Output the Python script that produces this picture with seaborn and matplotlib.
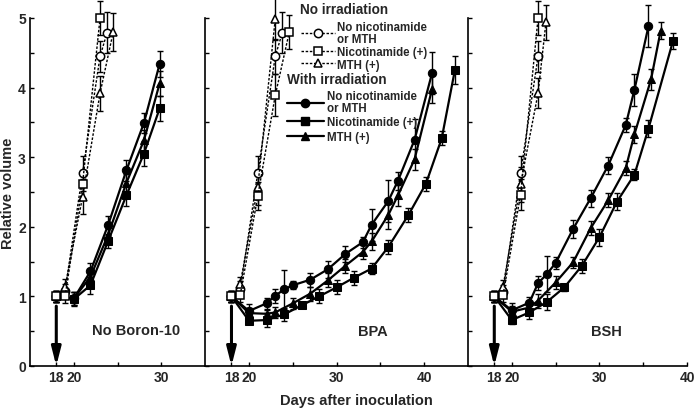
import numpy as np
import pandas as pd
import matplotlib
matplotlib.use("Agg")
import matplotlib.pyplot as plt
from matplotlib.lines import Line2D
from matplotlib.ticker import MultipleLocator, FixedLocator
import seaborn as sns

# ---------------- data ----------------
panel_names = ["No Boron-10", "BPA", "BSH"]
panel_xlims = [(15, 35), (15, 45), (15, 40)]
panel_xticks = [[18, 20, 30], [18, 20, 30, 40], [18, 20, 30, 40]]
panel_xminor = [[25], [25, 35], [25, 35]]
panel_text_pos = [(27.1, 0.52), (34.1, 0.5), (30.85, 0.5)]

# No irradiation (open markers, dotted lines)
L_ni_ctrl_x = [18, 19, 21, 23, 23.8]
L_ni_ctrl_y = [1.0, 1.08, 2.77, 4.45, 4.79]
L_ni_ctrl_e = [0.08, 0.1, 0.25, 0.22, 0.3]
L_ni_nic_x = [18, 19, 21, 23]
L_ni_nic_y = [1.0, 1.0, 2.62, 5.0]
L_ni_nic_e = [0.08, 0.1, 0.2, 0.25]
L_ni_mth_x = [18, 19, 21, 23, 24.5]
L_ni_mth_y = [1.0, 1.13, 2.43, 3.92, 4.80]
L_ni_mth_e = [0.08, 0.12, 0.25, 0.25, 0.27]

M_ni_ctrl_x = [18, 19, 21, 23, 23.8]
M_ni_ctrl_y = [1.0, 1.1, 2.77, 4.45, 4.79]
M_ni_ctrl_e = [0.08, 0.12, 0.25, 0.25, 0.3]
M_ni_nic_x = [18, 19, 21, 23, 24.6]
M_ni_nic_y = [1.0, 1.02, 2.44, 3.89, 4.80]
M_ni_nic_e = [0.08, 0.1, 0.2, 0.3, 0.25]
M_ni_mth_x = [18, 19, 21, 23]
M_ni_mth_y = [1.0, 1.18, 2.57, 4.99]
M_ni_mth_e = [0.08, 0.1, 0.25, 0.3]

R_ni_ctrl_x = [18, 19, 21, 23]
R_ni_ctrl_y = [1.0, 1.07, 2.77, 4.45]
R_ni_ctrl_e = [0.08, 0.1, 0.25, 0.22]
R_ni_nic_x = [18, 19, 21, 23]
R_ni_nic_y = [1.0, 1.02, 2.46, 5.0]
R_ni_nic_e = [0.08, 0.1, 0.22, 0.25]
R_ni_mth_x = [18, 19, 21, 23, 23.9]
R_ni_mth_y = [1.0, 1.14, 2.61, 3.92, 4.94]
R_ni_mth_e = [0.08, 0.1, 0.25, 0.22, 0.25]

# With irradiation (filled markers, solid lines)
L_ir_x = [18, 20, 21.9, 23.9, 26, 28, 29.8]
L_ir_ctrl_y = [1.0, 0.97, 1.36, 2.02, 2.81, 3.49, 4.34]
L_ir_ctrl_e = [0.08, 0.1, 0.12, 0.14, 0.15, 0.14, 0.19]
L_ir_mth_y = [1.0, 0.97, 1.28, 1.88, 2.63, 3.24, 4.06]
L_ir_mth_e = [0.08, 0.1, 0.12, 0.12, 0.13, 0.15, 0.18]
L_ir_nic_y = [1.0, 0.96, 1.16, 1.79, 2.45, 3.05, 3.70]
L_ir_nic_e = [0.08, 0.1, 0.12, 0.1, 0.15, 0.18, 0.18]

M_ir_ctrl_x = [18, 20, 22, 23, 24, 25, 27, 29, 31, 33, 34, 35.9, 37, 38.9, 40.9]
M_ir_ctrl_y = [1.0, 0.79, 0.90, 1.01, 1.10, 1.16, 1.24, 1.39, 1.61, 1.78, 2.03, 2.37, 2.66, 3.25, 4.21]
M_ir_ctrl_e = [0.08, 0.1, 0.08, 0.1, 0.28, 0.06, 0.1, 0.12, 0.12, 0.08, 0.23, 0.3, 0.13, 0.3, 0.3]
M_ir_mth_x = [18, 20, 22, 23, 25, 27, 29, 31, 33, 34, 35.9, 37, 38.9, 40.9]
M_ir_mth_y = [1.0, 0.76, 0.75, 0.77, 0.90, 1.04, 1.23, 1.44, 1.64, 1.79, 2.17, 2.45, 2.97, 3.98]
M_ir_mth_e = [0.08, 0.08, 0.06, 0.08, 0.08, 0.1, 0.1, 0.1, 0.1, 0.12, 0.2, 0.15, 0.15, 0.2]
M_ir_nic_x = [18, 20, 22, 24, 26, 28, 30, 32, 34, 35.9, 38.2, 40.2, 42, 43.5]
M_ir_nic_y = [1.0, 0.65, 0.66, 0.74, 0.87, 1.0, 1.13, 1.27, 1.40, 1.71, 2.17, 2.62, 3.27, 4.25]
M_ir_nic_e = [0.08, 0.05, 0.1, 0.1, 0.04, 0.1, 0.1, 0.1, 0.08, 0.1, 0.1, 0.1, 0.1, 0.2]

R_ir_ctrl_x = [18, 20, 22, 23, 24, 25, 27, 29, 31, 33, 34, 35.6]
R_ir_ctrl_y = [1.0, 0.80, 0.91, 1.19, 1.32, 1.48, 1.97, 2.41, 2.88, 3.46, 3.97, 4.88]
R_ir_ctrl_e = [0.08, 0.1, 0.08, 0.1, 0.26, 0.08, 0.13, 0.12, 0.12, 0.1, 0.23, 0.3]
R_ir_mth_x = [18, 20, 22, 23, 25, 27, 29, 31, 33, 34, 35.9, 37]
R_ir_mth_y = [1.0, 0.78, 0.84, 0.94, 1.20, 1.49, 1.98, 2.38, 2.84, 3.33, 4.12, 4.82]
R_ir_mth_e = [0.08, 0.08, 0.08, 0.1, 0.1, 0.08, 0.1, 0.1, 0.1, 0.12, 0.15, 0.12]
R_ir_nic_x = [18, 20, 22, 24, 26, 28, 30, 32, 34, 35.6, 38.4]
R_ir_nic_y = [1.0, 0.66, 0.77, 0.92, 1.13, 1.44, 1.85, 2.36, 2.75, 3.41, 4.67]
R_ir_nic_e = [0.08, 0.05, 0.1, 0.12, 0.05, 0.1, 0.12, 0.12, 0.08, 0.12, 0.12]

ni_labels = ["No nicotinamide\nor MTH", "Nicotinamide (+)", "MTH (+)"]
ir_labels = ["No nicotinamide\nor MTH", "Nicotinamide (+)", "MTH (+)"]

panels = [
    {"ir": [(L_ir_x, L_ir_ctrl_y, L_ir_ctrl_e, "o"), (L_ir_x, L_ir_mth_y, L_ir_mth_e, "^"),
            (L_ir_x, L_ir_nic_y, L_ir_nic_e, "s")],
     "ni": [(L_ni_ctrl_x, L_ni_ctrl_y, L_ni_ctrl_e, "o"), (L_ni_mth_x, L_ni_mth_y, L_ni_mth_e, "^"),
            (L_ni_nic_x, L_ni_nic_y, L_ni_nic_e, "s")]},
    {"ir": [(M_ir_ctrl_x, M_ir_ctrl_y, M_ir_ctrl_e, "o"), (M_ir_mth_x, M_ir_mth_y, M_ir_mth_e, "^"),
            (M_ir_nic_x, M_ir_nic_y, M_ir_nic_e, "s")],
     "ni": [(M_ni_ctrl_x, M_ni_ctrl_y, M_ni_ctrl_e, "o"), (M_ni_mth_x, M_ni_mth_y, M_ni_mth_e, "^"),
            (M_ni_nic_x, M_ni_nic_y, M_ni_nic_e, "s")]},
    {"ir": [(R_ir_ctrl_x, R_ir_ctrl_y, R_ir_ctrl_e, "o"), (R_ir_mth_x, R_ir_mth_y, R_ir_mth_e, "^"),
            (R_ir_nic_x, R_ir_nic_y, R_ir_nic_e, "s")],
     "ni": [(R_ni_ctrl_x, R_ni_ctrl_y, R_ni_ctrl_e, "o"), (R_ni_mth_x, R_ni_mth_y, R_ni_mth_e, "^"),
            (R_ni_nic_x, R_ni_nic_y, R_ni_nic_e, "s")]},
]

# ---------------- style ----------------
sns.set_style("ticks")
plt.rcParams["font.family"] = ["Liberation Sans", "DejaVu Sans"]
plt.rcParams["font.weight"] = "bold"

W, H = 697, 410
fig = plt.figure(figsize=(W / 100, H / 100), dpi=100)
gs = fig.add_gridspec(1, 3, width_ratios=[20, 30, 25], left=30 / W, right=687 / W,
                      bottom=1 - 367 / H, top=1 - 19 / H, wspace=0)

MS = {"o": 6.0, "s": 5.8, "^": 6.4}
NI_DASH = (0, (1.8, 1.2))

for i, p in enumerate(panels):
    ax = fig.add_subplot(gs[0, i])
    # irradiated: solid lines with filled markers
    for xs, ys, es, mk in p["ir"]:
        df = pd.DataFrame({"day": xs, "vol": ys})
        sns.lineplot(data=df, x="day", y="vol", ax=ax, color="k", marker=mk,
                     markersize=MS[mk], markerfacecolor="k", markeredgecolor="k",
                     linewidth=1.6, errorbar=None, clip_on=False, zorder=3)
        eb = ax.errorbar(xs, ys, yerr=es, fmt="none", ecolor="k", elinewidth=1.0,
                         capsize=2.0, capthick=1.0, zorder=2)
        for ch in eb.get_children():
            ch.set_clip_on(False)
    # not irradiated: dotted lines with open markers
    for xs, ys, es, mk in p["ni"]:
        df = pd.DataFrame({"day": xs, "vol": ys})
        sns.lineplot(data=df, x="day", y="vol", ax=ax, color="k", marker=mk,
                     markersize=MS[mk], markerfacecolor="white", markeredgecolor="k",
                     markeredgewidth=1.1, linewidth=1.0, linestyle=NI_DASH,
                     errorbar=None, clip_on=False, zorder=5)
        eb = ax.errorbar(xs, ys, yerr=es, fmt="none", ecolor="k", elinewidth=1.0,
                         capsize=2.0, capthick=1.0, zorder=4)
        for ch in eb.get_children():
            ch.set_clip_on(False)

    # irradiation arrow
    ax.annotate("", xy=(18, 0.0), xytext=(18, 0.86),
                arrowprops=dict(arrowstyle="-|>,head_length=1.1,head_width=0.28",
                                mutation_scale=10, lw=2.2, color="k",
                                shrinkA=0, shrinkB=0), zorder=1, annotation_clip=False)

    tx, ty = panel_text_pos[i]
    ax.text(tx, ty, panel_names[i], ha="center", va="center", fontsize=10.5,
            fontweight="bold")

    ax.set_xlim(*panel_xlims[i])
    ax.set_ylim(0, 5)
    ax.set_xlabel("")
    ax.set_ylabel("")
    ax.xaxis.set_major_locator(FixedLocator(panel_xticks[i]))
    ax.xaxis.set_minor_locator(FixedLocator(panel_xminor[i]))
    ax.yaxis.set_major_locator(MultipleLocator(1))
    ax.yaxis.set_minor_locator(MultipleLocator(0.5))
    ax.tick_params(which="both", direction="in", length=3, width=1.0, color="k")
    ax.tick_params(axis="x", which="major", labelsize=10, pad=3)
    ax.tick_params(axis="y", which="major", labelsize=10, pad=3)
    if i > 0:
        ax.tick_params(axis="y", labelleft=False)
    for lab in ax.get_xticklabels() + ax.get_yticklabels():
        lab.set_fontweight("bold")
    sns.despine(ax=ax)
    for s in ["left", "bottom"]:
        ax.spines[s].set_linewidth(1.2)
        ax.spines[s].set_color("k")
    ax.set_facecolor("none")
    ax.patch.set_alpha(0)

fig.text(356 / W, 1 - 401 / H, "Days after inoculation", ha="center", va="center",
         fontsize=10.5, fontweight="bold")
fig.text(8 / W, 1 - 193 / H, "Relative volume", ha="center", va="center",
         rotation=90, fontsize=10.5, fontweight="bold")

# legends
def mk_handle(mk, filled):
    if filled:
        return Line2D([], [], color="k", lw=1.6, marker=mk, markersize=MS[mk],
                      markerfacecolor="k", markeredgecolor="k")
    return Line2D([], [], color="k", lw=1.0, linestyle=NI_DASH, marker=mk,
                  markersize=MS[mk], markerfacecolor="white", markeredgecolor="k",
                  markeredgewidth=1.1)

ni_handles = [mk_handle("o", False), mk_handle("s", False), mk_handle("^", False)]
ir_handles = [mk_handle("o", True), mk_handle("s", True), mk_handle("^", True)]

leg_kw = dict(loc="upper left", bbox_transform=fig.transFigure, frameon=False,
              borderpad=0, borderaxespad=0, numpoints=1, alignment="left",
              prop={"weight": "bold", "size": 8.3},
              title_fontproperties={"weight": "bold", "size": 9.8})
leg1 = fig.legend(ni_handles, ni_labels, title="No irradiation",
                  bbox_to_anchor=(300.5 / W, 1 - 3.5 / H), handlelength=3.0,
                  handletextpad=0.15, labelspacing=0.08, **leg_kw)
leg2 = fig.legend(ir_handles, ir_labels, title="With irradiation",
                  bbox_to_anchor=(287 / W, 1 - 73 / H), handlelength=3.2,
                  handletextpad=0.25, labelspacing=0.2, **leg_kw)
for lg in (leg1, leg2):
    for t in lg.get_texts():
        t.set_linespacing(1.0)
    lg._legend_box.sep = 3

fig.savefig("out.png", dpi=100)
